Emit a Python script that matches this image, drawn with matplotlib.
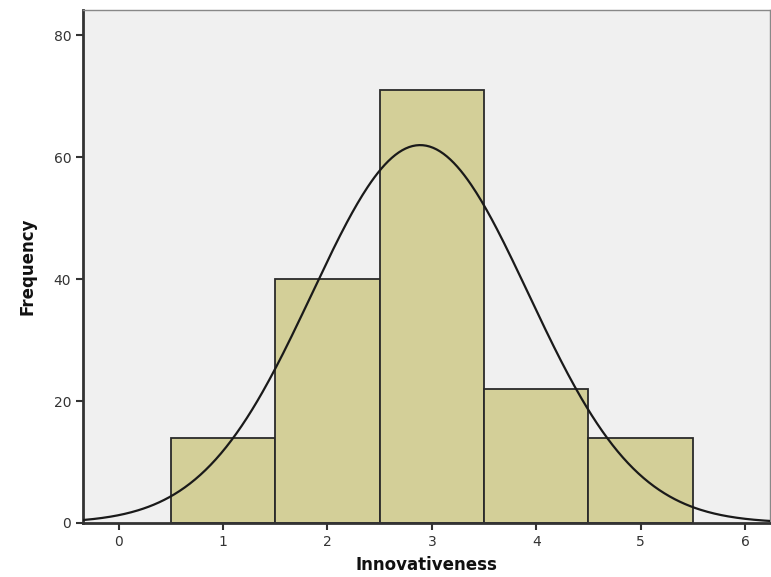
import numpy as np
import matplotlib
matplotlib.use("Agg")
import matplotlib.pyplot as plt

bin_centers = [1, 2, 3, 4, 5]
frequencies = [14, 40, 71, 22, 14]
x_ticks = [0, 1, 2, 3, 4, 5, 6]
y_ticks = [0, 20, 40, 60, 80]

fig = plt.figure(figsize=(7.71, 5.77), dpi=100)
ax = fig.add_axes([83/771, 54/577, 1 - 83/771 - 0.001, (523-10)/577])
ax.set_facecolor("#f0f0f0")

ax.bar(bin_centers, frequencies, width=1.0, color="#d3cf98", edgecolor="#2a2a2a", linewidth=1.3, zorder=2)

c = np.array(bin_centers, float)
f = np.array(frequencies, float)
n = f.sum()
mu = (c * f).sum() / n
sd = np.sqrt(((c - mu) ** 2 * f).sum() / (n - 1))
xs = np.linspace(-0.34, 6.25, 400)
ys = n * 1.0 * np.exp(-0.5 * ((xs - mu) / sd) ** 2) / (sd * np.sqrt(2 * np.pi))
ax.plot(xs, ys, color="#1a1a1a", linewidth=1.6, zorder=3)

ax.set_xlim(-0.34, 6.24)
ax.set_ylim(0, 84.1)
ax.set_xticks(x_ticks)
ax.set_yticks(y_ticks)
ax.tick_params(axis="both", colors="#333333", labelcolor="#333333", labelsize=10, width=1.5, length=5)

for s in ["left", "bottom"]:
    ax.spines[s].set_color("#333333")
    ax.spines[s].set_linewidth(2)
for s in ["top", "right"]:
    ax.spines[s].set_color("#888888")
    ax.spines[s].set_linewidth(1)

ax.set_xlabel("Innovativeness", fontsize=12, fontweight="bold", color="#111111", labelpad=5,
              family="DejaVu Sans")
ax.set_ylabel("Frequency", fontsize=12, fontweight="bold", color="#111111", labelpad=12,
              family="DejaVu Sans Condensed")

fig.savefig("out.png", dpi=100)
